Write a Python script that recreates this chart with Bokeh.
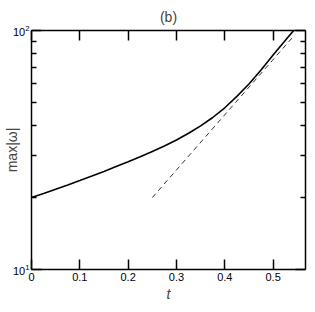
import numpy as np
from bokeh.plotting import figure
from bokeh.models import (LinearAxis, LogAxis, FixedTicker, Title, CustomJSTickFormatter)
from bokeh.embed import file_html
from bokeh.resources import INLINE

# solid curve: max|omega| vs t
t_vals = [0.0, 0.025, 0.05, 0.075, 0.1, 0.125, 0.15, 0.175, 0.2, 0.225, 0.25,
          0.275, 0.3, 0.325, 0.35, 0.375, 0.4, 0.425, 0.45, 0.475, 0.5, 0.525, 0.5425]
w_vals = [20.0, 20.8, 21.66, 22.58, 23.55, 24.6, 25.73, 26.95, 28.25, 29.65, 31.19,
          32.89, 34.83, 37.15, 39.9, 43.25, 47.5, 53.0, 59.7, 68.4, 78.9, 90.8, 100.0]

# dashed reference line
t_dash = [0.25, 0.545]
w_dash = [20.0, 96.0]

x_ticks = [0, 0.1, 0.2, 0.3, 0.4, 0.5]
x_tick_labels = ["0", "0.1", "0.2", "0.3", "0.4", "0.5"]
y_major = [10, 100]
y_minor = [20, 30, 40, 50, 60, 70, 80, 90]

FONT = "Liberation Sans"

p = figure(width=307, height=304, x_range=(0, 0.567), y_range=(10, 100),
           y_axis_type="log", output_backend="svg", toolbar_location=None,
           min_border_left=0, min_border_right=2, min_border_top=0,
           min_border_bottom=0)

p.title = Title(text="(b)", align="center", text_font=FONT,
                text_font_size="14px", text_font_style="normal", standoff=12)
p.xgrid.visible = False
p.ygrid.visible = False
p.outline_line_color = None
p.background_fill_color = "white"
p.border_fill_color = "white"

def style(ax):
    ax.axis_line_width = 1.5
    ax.axis_line_color = "black"
    ax.major_tick_in = 10
    ax.major_tick_out = 0
    ax.minor_tick_in = 5
    ax.minor_tick_out = 0
    ax.major_tick_line_width = 1.5
    ax.minor_tick_line_width = 1.5
    ax.major_label_text_font = FONT
    ax.major_label_text_font_size = "11px"
    ax.major_label_text_color = "black"

xb = p.xaxis[0]
xb.ticker = FixedTicker(ticks=x_ticks, minor_ticks=[])
xb.major_label_overrides = {k: v for k, v in zip(x_ticks, x_tick_labels)}
style(xb)
xb.axis_label = "t"
xb.axis_label_text_font = FONT
xb.axis_label_text_font_style = "italic"
xb.axis_label_text_font_size = "14px"
xb.axis_label_standoff = 2
xb.major_label_standoff = 3

yl = p.yaxis[0]
yl.ticker = FixedTicker(ticks=y_major, minor_ticks=y_minor)
style(yl)
yl.axis_label = "max|ω|"
yl.axis_label_text_font = FONT
yl.axis_label_text_font_style = "normal"
yl.axis_label_text_font_size = "14px"
yl.axis_label_standoff = -10
yl.major_label_standoff = 2

blank = CustomJSTickFormatter(code="return ''")

xt = LinearAxis(ticker=FixedTicker(ticks=x_ticks, minor_ticks=[]), formatter=blank)
style(xt)
xt.major_label_standoff = 0
p.add_layout(xt, "above")

yr = LogAxis(ticker=FixedTicker(ticks=y_major, minor_ticks=y_minor), formatter=blank)
style(yr)
yr.major_label_standoff = 0
p.add_layout(yr, "right")

p.line(t_vals, w_vals, line_color="black", line_width=1.6)
p.line(t_dash, w_dash, line_color="#333333", line_width=1.0, line_dash="5 4")

open("out.html", "w").write(file_html(p, INLINE))
